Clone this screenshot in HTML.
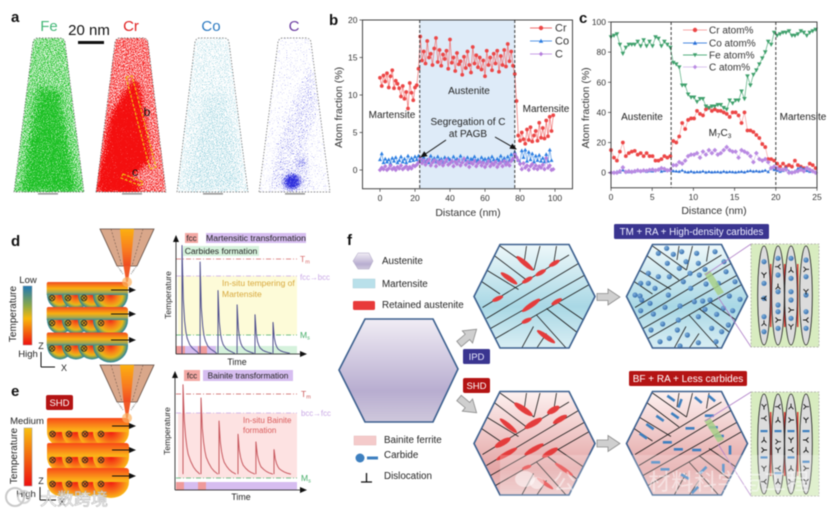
<!DOCTYPE html>
<html lang="en">
<head>
<meta charset="utf-8">
<title>Composite materials figure</title>
<style>
html,body{margin:0;padding:0;background:#fff;width:827px;height:514px;overflow:hidden}
svg{display:block;filter:blur(.4px)}
text{font-family:"Liberation Sans","Noto Sans CJK SC",sans-serif;fill:#222}
.tick{font-size:8.5px;text-anchor:middle;fill:#333}
.axt{font-size:10.5px;text-anchor:middle;fill:#333}
.lab{font-size:10px;text-anchor:middle;fill:#222}
.panel{font-size:15px;font-weight:bold;fill:#111}
.hl{stroke:#1a1a1a;stroke-width:.8;fill:none}
</style>
</head>
<body>
<svg id="root" xmlns="http://www.w3.org/2000/svg" width="827" height="514" viewBox="0 0 827 514">
<defs>
  <filter id="atoms-fe" filterUnits="userSpaceOnUse" x="0" y="30" width="340" height="170" color-interpolation-filters="sRGB"><feGaussianBlur in="SourceAlpha" stdDeviation="4" result="b"/><feTurbulence type="fractalNoise" baseFrequency="1.1" numOctaves="1" seed="3"/><feColorMatrix values="0 0 0 0 0 0 0 0 0 0 0 0 0 0 0 1 0 0 0 0" result="na"/><feComposite in="b" in2="na" operator="arithmetic" k1="0" k2="5.6" k3="8" k4="-6.8" result="m"/><feFlood flood-color="#1cc024"/><feComposite in2="m" operator="in"/></filter>
  <filter id="atoms-cr" filterUnits="userSpaceOnUse" x="0" y="30" width="340" height="170" color-interpolation-filters="sRGB"><feGaussianBlur in="SourceAlpha" stdDeviation="3" result="b"/><feTurbulence type="fractalNoise" baseFrequency="1.1" numOctaves="1" seed="9"/><feColorMatrix values="0 0 0 0 0 0 0 0 0 0 0 0 0 0 0 1 0 0 0 0" result="na"/><feComposite in="b" in2="na" operator="arithmetic" k1="0" k2="5.6" k3="8" k4="-6.8" result="m"/><feFlood flood-color="#f40f0f"/><feComposite in2="m" operator="in"/></filter>
  <filter id="atoms-co" filterUnits="userSpaceOnUse" x="0" y="30" width="340" height="170" color-interpolation-filters="sRGB"><feGaussianBlur in="SourceAlpha" stdDeviation="5" result="b"/><feTurbulence type="fractalNoise" baseFrequency="1.2" numOctaves="1" seed="14"/><feColorMatrix values="0 0 0 0 0 0 0 0 0 0 0 0 0 0 0 1 0 0 0 0" result="na"/><feComposite in="b" in2="na" operator="arithmetic" k1="0" k2="5.6" k3="8" k4="-6.8" result="m"/><feFlood flood-color="#7cc4d4"/><feComposite in2="m" operator="in"/></filter>
  <filter id="atoms-c" filterUnits="userSpaceOnUse" x="0" y="30" width="340" height="170" color-interpolation-filters="sRGB"><feGaussianBlur in="SourceAlpha" stdDeviation="3" result="b"/><feTurbulence type="fractalNoise" baseFrequency="1.3" numOctaves="1" seed="21"/><feColorMatrix values="0 0 0 0 0 0 0 0 0 0 0 0 0 0 0 1 0 0 0 0" result="na"/><feComposite in="b" in2="na" operator="arithmetic" k1="0" k2="5.6" k3="8" k4="-6.8" result="m"/><feFlood flood-color="#2c2cdc"/><feComposite in2="m" operator="in"/></filter>
  <clipPath id="cone-fe"><path d="M14,192L33,42Q34,38 38,38H60Q64,38 65,42L84,192z"/></clipPath>
  <clipPath id="cone-cr"><path d="M96,192L115,42Q116,38 120,38H143Q147,38 148,42L166,192z"/></clipPath>
  <clipPath id="cone-co"><path d="M177,192L195,42Q196,38 200,38H224Q228,38 229,42L248,192z"/></clipPath>
  <clipPath id="cone-c"><path d="M259,192L278,42Q279,38 283,38H306Q310,38 311,42L330,192z"/></clipPath>
  <linearGradient id="bar-d" x1="0" y1="0" x2="0" y2="1"><stop offset="0" stop-color="#1f77b4"/><stop offset=".33" stop-color="#8aa84a"/><stop offset=".55" stop-color="#f8b80c"/><stop offset="1" stop-color="#ee1010"/></linearGradient>
  <linearGradient id="bar-e" x1="0" y1="0" x2="0" y2="1"><stop offset="0" stop-color="#f8c010"/><stop offset="1" stop-color="#ee1010"/></linearGradient>
  <linearGradient id="layer-d" x1="0" y1="0" x2="0" y2="1"><stop offset="0" stop-color="#f04820"/><stop offset=".5" stop-color="#fab010"/><stop offset=".8" stop-color="#a8a850"/><stop offset="1" stop-color="#3a8a90"/></linearGradient>
  <radialGradient id="bead-d" cx="0" cy="0" r="1" gradientTransform="translate(.5,0) scale(.5,1)"><stop offset="0" stop-color="#f02818"/><stop offset=".45" stop-color="#f88818"/><stop offset=".7" stop-color="#e8b818"/><stop offset=".86" stop-color="#7aa060"/><stop offset="1" stop-color="#1f7fa0"/></radialGradient>
  <linearGradient id="layer-e" x1="0" y1="0" x2="0" y2="1"><stop offset="0" stop-color="#f84818"/><stop offset=".8" stop-color="#fba818"/><stop offset="1" stop-color="#fbb818"/></linearGradient>
  <radialGradient id="bead-e" cx="0" cy="0" r="1" gradientTransform="translate(.5,0) scale(.5,1)"><stop offset="0" stop-color="#f01810"/><stop offset=".55" stop-color="#f86a18"/><stop offset="1" stop-color="#fbb818"/></radialGradient>
  <linearGradient id="nozzle-beam" x1="0" y1="0" x2="0" y2="1"><stop offset="0" stop-color="#fcb010"/><stop offset=".6" stop-color="#f87820"/><stop offset="1" stop-color="#f04a20"/></linearGradient>
  <linearGradient id="aust-fill" x1="0" y1="0" x2="0" y2="1"><stop offset="0" stop-color="#f1edf5"/><stop offset=".7" stop-color="#b8add0"/><stop offset="1" stop-color="#cfc8dc"/></linearGradient>
  <linearGradient id="mart-fill" x1="0" y1="0" x2="0" y2="1"><stop offset="0" stop-color="#eef8fa"/><stop offset=".6" stop-color="#a9d8e5"/><stop offset="1" stop-color="#d9eef4"/></linearGradient>
  <linearGradient id="bain-fill" x1="0" y1="0" x2="0" y2="1"><stop offset="0" stop-color="#fdf1f0"/><stop offset=".75" stop-color="#e4a6a6"/><stop offset="1" stop-color="#ecc4c4"/></linearGradient>
  <radialGradient id="ball" cx=".35" cy=".35" r=".75"><stop offset="0" stop-color="#7fb0dc"/><stop offset="1" stop-color="#2f68a8"/></radialGradient>
  <clipPath id="hex-clip"><polygon points="-60.5,0 -34.5,-52 34.5,-52 60.5,0 34.5,51.5 -34.5,51.5"/></clipPath>
  <polygon id="hex" points="-60.5,0 -34.5,-52 34.5,-52 60.5,0 34.5,51.5 -34.5,51.5"/>
  <g id="hex-lines" clip-path="url(#hex-clip)">
    <path class="hl" d="M-52,11L34.5,-41.5M-48,22L44,-33M-44,32L50.5,-21.5M-39,42L54,-11.5"/>
    <path class="hl" d="M-34.5,-50.5L-.5,-26.5M-41,-41.5L-8,-16.5M-48,-26.5L-16,-7M-53,-15L-34.5,-2.5"/>
    <path class="hl" d="M-8,-50.5L-10,-36.5M5.5,-50.5L-.5,-26.5M22,-50.5L19.5,-35"/>
    <path class="hl" d="M2,18.5L32,52M12,12L44,37M22,5L49,23.5M-1,30L-13,52M12,37L2,52"/>
  </g>
  <polygon id="block-arrow" points="0,-3.5 11,-3.5 11,-8 23,0 11,8 11,3.5 0,3.5" fill="#cfcfcf" stroke="#8a8a8a" stroke-width=".8"/>
  <g id="bead-layer-d">
    <path d="M47,295 a13,14 0 0 0 26,0z" fill="url(#bead-d)"/>
    <path d="M62,295 a14,14 0 0 0 28,0z" fill="url(#bead-d)"/>
    <path d="M78,295 a14,14 0 0 0 28,0z" fill="url(#bead-d)"/>
    <path d="M93,295 a17.500,17 0 0 0 35,0z" fill="url(#bead-d)"/>
    <path d="M48,282h77a3,3 0 0 1 3,3v10h-81.300v-11a2,2 0 0 1 1.300,-2z" fill="url(#layer-d)"/>
  </g>
  <g id="bead-layer-e">
    <path d="M47,432 a13,14 0 0 0 26,0z" fill="url(#bead-e)"/>
    <path d="M62,432 a14,14 0 0 0 28,0z" fill="url(#bead-e)"/>
    <path d="M78,432 a14,14 0 0 0 28,0z" fill="url(#bead-e)"/>
    <path d="M93,432 a18,16 0 0 0 36,0z" fill="url(#bead-e)"/>
    <path d="M49,418h77a3,3 0 0 1 3,3v11h-82v-12a2,2 0 0 1 2,-2z" fill="url(#layer-e)"/>
  </g>
  <g id="cross-mark"><circle r="2.8" fill="none" stroke="#222" stroke-width=".8"/><path d="M-2,-2L2,2M-2,2L2,-2" stroke="#222" stroke-width=".7"/></g>
  <marker id="ah" markerWidth="7" markerHeight="6" refX="6" refY="3" orient="auto" markerUnits="userSpaceOnUse"><path d="M0,0L7,3L0,6z" fill="#111"/></marker>
  <g id="nozzle">
    <polygon points="-27,0 27,0 10,37 -10,37" fill="#d9a78a" stroke="#5f4a40" stroke-width=".8"/>
    <polygon points="-7,0 7,0 3.5,37 -3.5,37" fill="url(#nozzle-beam)"/>
    <path d="M-16,0L-5,37M16,0L5,37" stroke="#5f4a40" stroke-width=".5" stroke-dasharray="2 1.5" fill="none"/>
    <polygon points="-3.5,37 3.5,37 .8,53 -.8,53" fill="#f05a28"/>
    <path d="M-9,38l4,5M9,38l-4,5M-7,41l3,4M7,41l-3,4" stroke="#999" stroke-width="1" stroke-dasharray="1 1" fill="none"/>
    <circle cx="0" cy="53" r="5" fill="#fbb060" opacity=".7"/>
  </g>
</defs>

<!-- PANEL A -->
<text class="panel" x="11" y="22">a</text>
<text x="49" y="31" font-size="15" text-anchor="middle" style="fill:#45b878">Fe</text>
<text x="131" y="31" font-size="15" text-anchor="middle" style="fill:#e02020">Cr</text>
<text x="211" y="31" font-size="15" text-anchor="middle" style="fill:#2a78c0">Co</text>
<text x="294" y="31" font-size="15" text-anchor="middle" style="fill:#6a3aa0">C</text>
<text x="89" y="35" font-size="15" text-anchor="middle" style="fill:#111">20 nm</text>
<rect x="78" y="41" width="26" height="3" fill="#111"/>

<g>
  <g clip-path="url(#cone-fe)"><g filter="url(#atoms-fe)">
    <path d="M5,200L28,32H70L93,200z" fill-opacity=".6"/>
    <path d="M22,192L38,90 58,90 76,192z" fill-opacity=".5"/>
  </g></g>
  <path d="M14,192L33,42Q34,38 38,38H60Q64,38 65,42L84,192z" fill="none" stroke="#666" stroke-width=".7" stroke-dasharray="1.5 1.5"/>
  <rect x="38" y="193" width="20" height="1.6" fill="#999"/>
</g>
<g>
  <g clip-path="url(#cone-cr)"><g filter="url(#atoms-cr)">
    <path d="M88,200L110,32H153L174,200z" fill-opacity=".6"/>
    <path d="M97,191L112,115 133,80 138,85 150,160 128,178 133,192z" fill-opacity=".85"/>
    <path d="M118,195L124,178 140,182 138,195z" fill-opacity=".7"/>
  </g></g>
  <path d="M96,192L115,42Q116,38 120,38H143Q147,38 148,42L166,192z" fill="none" stroke="#666" stroke-width=".7" stroke-dasharray="1.5 1.5"/>
  <rect x="122" y="193" width="20" height="1.6" fill="#999"/>
  <polygon points="126,77 132,76 156,167 150,169" fill="none" stroke="#f0c810" stroke-width="1.1" stroke-dasharray="3 1.5"/>
  <polygon points="123,174 143,182 141,186 121,178" fill="none" stroke="#f0c810" stroke-width="1.1" stroke-dasharray="3 1.5"/>
  <text x="147" y="116" font-size="12" text-anchor="middle" style="fill:#111">b</text>
  <text x="135" y="176" font-size="12" text-anchor="middle" style="fill:#111">c</text>
</g>
<g>
  <g clip-path="url(#cone-co)"><g filter="url(#atoms-co)">
    <path d="M168,200L190,32H234L256,200z" fill-opacity=".42"/>
    <path d="M184,192L204,95 226,95 242,192z" fill-opacity=".12"/>
  </g></g>
  <path d="M177,192L195,42Q196,38 200,38H224Q228,38 229,42L248,192z" fill="none" stroke="#666" stroke-width=".7" stroke-dasharray="1.5 1.5"/>
  <rect x="203" y="193" width="20" height="1.6" fill="#999"/>
</g>
<g>
  <g clip-path="url(#cone-c)"><g filter="url(#atoms-c)">
    <path d="M250,200L272,32H316L338,200z" fill-opacity=".27"/>
    <path d="M312,62L318,100 306,150 312,190 268,190 284,120z" fill-opacity=".16"/>
    <ellipse cx="292" cy="182" rx="8" ry="8" fill-opacity=".75"/>
    <ellipse cx="302" cy="163" rx="5" ry="4" fill-opacity=".35"/>
  </g></g>
  <path d="M259,192L278,42Q279,38 283,38H306Q310,38 311,42L330,192z" fill="none" stroke="#666" stroke-width=".7" stroke-dasharray="1.5 1.5"/>
  <rect x="285" y="193" width="20" height="1.6" fill="#999"/>
</g>

<!-- PANEL B / C (scripted) -->
<text class="panel" x="329" y="25">b</text>
<text class="panel" x="579" y="23">c</text>
<g id="chart-b"></g>
<g id="chart-c"></g>

<!-- PANEL D -->
<text class="panel" x="11" y="246">d</text>
<g>
  <use href="#bead-layer-d"/><use href="#bead-layer-d" y="25"/><use href="#bead-layer-d" y="50.5"/>
  <use href="#nozzle" x="127" y="229"/>
  <use href="#cross-mark" x="52" y="298"/><use href="#cross-mark" x="68" y="298"/><use href="#cross-mark" x="84" y="298"/><use href="#cross-mark" x="101" y="298"/>
  <use href="#cross-mark" x="52" y="323"/><use href="#cross-mark" x="68" y="323"/><use href="#cross-mark" x="84" y="323"/><use href="#cross-mark" x="101" y="323"/>
  <use href="#cross-mark" x="52" y="348.500"/><use href="#cross-mark" x="68" y="348.500"/><use href="#cross-mark" x="84" y="348.500"/><use href="#cross-mark" x="101" y="348.500"/>
  <path d="M111,290H135" stroke="#111" stroke-width="1" marker-end="url(#ah)"/>
  <path d="M111,314H135" stroke="#111" stroke-width="1" marker-end="url(#ah)"/>
  <path d="M111,340H135" stroke="#111" stroke-width="1" marker-end="url(#ah)"/>
</g>
<rect x="23" y="286" width="9" height="59" fill="url(#bar-d)" stroke="#999" stroke-width=".4"/>
<text x="28" y="283" font-size="9.5" text-anchor="middle">Low</text>
<text x="28" y="357" font-size="9.5" text-anchor="middle">High</text>
<text transform="translate(16,314) rotate(-90)" font-size="10" text-anchor="middle">Temperature</text>
<text x="41" y="349" font-size="9" text-anchor="middle">Z</text>
<path d="M41,367V352M41,367H55" stroke="#111" stroke-width="1" fill="none"/>
<text x="64" y="371" font-size="9" text-anchor="middle">X</text>

<g id="plot-d">
  <rect x="178" y="276" width="119" height="59" fill="#fdfbd8"/>
  <rect x="216" y="346" width="81" height="8" fill="#d5f2dc"/>
  <rect x="176" y="346" width="9" height="8" fill="#ef9a9a"/><rect x="185" y="346" width="13" height="8" fill="#d6bdf0"/>
  <rect x="198" y="346" width="9" height="8" fill="#ef9a9a"/><rect x="207" y="346" width="9" height="8" fill="#d6bdf0"/>
  <path d="M176,259H297" stroke="#d86a6a" stroke-width=".7" stroke-dasharray="5 2 1 2"/>
  <path d="M176,276H297" stroke="#c9a8e6" stroke-width=".7" stroke-dasharray="5 2 1 2"/>
  <path d="M176,335H297" stroke="#48ae6a" stroke-width=".8" stroke-dasharray="5 2 1 2"/>
  <path d="M176,354V236" stroke="#111" stroke-width=".8" marker-end="url(#ah)"/>
  <path d="M176,354H306" stroke="#111" stroke-width=".8" marker-end="url(#ah)"/>
  <rect x="185" y="233" width="13" height="10" fill="#f3a8a4"/>
  <text x="191.500" y="241" font-size="8" text-anchor="middle">fcc</text>
  <rect x="206" y="233" width="100" height="10" fill="#d6bdf0"/>
  <text x="256" y="241" font-size="8.700" text-anchor="middle">Martensitic transformation</text>
  <rect x="183" y="246" width="76" height="10" fill="#d5f2dc"/>
  <text x="221" y="254" font-size="8.600" text-anchor="middle">Carbides formation</text>
  <text x="300" y="262" font-size="8.500" style="fill:#d86a6a">T<tspan font-size="5.500" dy="1.500">m</tspan></text>
  <text x="300" y="280" font-size="7.800" style="fill:#c9a8e6">fcc→bcc</text>
  <text x="300" y="338" font-size="8.500" style="fill:#48ae6a">M<tspan font-size="5.500" dy="1.500">s</tspan></text>
  <text x="222" y="286" font-size="8.500" style="fill:#d8a83c">In-situ tempering of</text>
  <text x="222" y="297" font-size="8.500" style="fill:#d8a83c">Martensite</text>
  <text x="237" y="365" font-size="8.800" text-anchor="middle">Time</text>
  <text transform="translate(171,295) rotate(-90)" font-size="8.500" text-anchor="middle">Temperature</text>
</g>

<!-- PANEL E -->
<text class="panel" x="11" y="396">e</text>
<rect x="46" y="395" width="27" height="15" rx="2" fill="#b41414"/>
<text x="59.500" y="406" font-size="9.500" text-anchor="middle" style="fill:#fff">SHD</text>
<g>
  <use href="#bead-layer-e"/><use href="#bead-layer-e" y="25"/><use href="#bead-layer-e" y="50"/>
  <use href="#nozzle" x="127" y="365"/>
  <use href="#cross-mark" x="52.500" y="434"/><use href="#cross-mark" x="69" y="434"/><use href="#cross-mark" x="85" y="434"/><use href="#cross-mark" x="101" y="434"/>
  <use href="#cross-mark" x="52.500" y="460"/><use href="#cross-mark" x="69" y="460"/><use href="#cross-mark" x="85" y="460"/><use href="#cross-mark" x="101" y="460"/>
  <use href="#cross-mark" x="52.500" y="484"/><use href="#cross-mark" x="69" y="484"/><use href="#cross-mark" x="85" y="484"/><use href="#cross-mark" x="101" y="484"/>
  <path d="M112,426H135" stroke="#111" stroke-width="1" marker-end="url(#ah)"/>
  <path d="M112,450H135" stroke="#111" stroke-width="1" marker-end="url(#ah)"/>
  <path d="M112,476H135" stroke="#111" stroke-width="1" marker-end="url(#ah)"/>
</g>
<rect x="24" y="428" width="8" height="58" fill="url(#bar-e)" stroke="#999" stroke-width=".5"/>
<text x="27" y="424" font-size="9.500" text-anchor="middle">Medium</text>
<text x="26" y="497" font-size="9.500" text-anchor="middle">High</text>
<text transform="translate(17,456) rotate(-90)" font-size="10" text-anchor="middle">Temperature</text>
<text x="41" y="484" font-size="9" text-anchor="middle">Z</text>
<path d="M40,500V487M40,500H56" stroke="#111" stroke-width="1" fill="none"/>
<text x="62" y="505" font-size="9" text-anchor="middle">X</text>

<g id="plot-e">
  <rect x="178" y="413" width="119" height="65" fill="#fde2e2"/>
  <rect x="176" y="482" width="121" height="8" fill="#d6bdf0"/>
  <rect x="176" y="482" width="8" height="8" fill="#ef9a9a"/><rect x="198" y="482" width="8" height="8" fill="#ef9a9a"/>
  <path d="M176,394H297" stroke="#cc5a5a" stroke-width=".7" stroke-dasharray="5 2 1 2"/>
  <path d="M176,413H297" stroke="#c9a8e6" stroke-width=".7" stroke-dasharray="5 2 1 2"/>
  <path d="M176,478H297" stroke="#48ae6a" stroke-width=".8" stroke-dasharray="5 2 1 2"/>
  <path d="M175,490V372" stroke="#111" stroke-width=".8" marker-end="url(#ah)"/>
  <path d="M175,490H306" stroke="#111" stroke-width=".8" marker-end="url(#ah)"/>
  <rect x="184" y="370" width="16" height="11" fill="#f3a8a4"/>
  <text x="192" y="378.500" font-size="8" text-anchor="middle">fcc</text>
  <rect x="203" y="370" width="90" height="11" fill="#d6bdf0"/>
  <text x="248" y="378.500" font-size="8.300" text-anchor="middle">Bainite transformation</text>
  <text x="301" y="397" font-size="8.500" style="fill:#cc5a5a">T<tspan font-size="5.500" dy="1.500">m</tspan></text>
  <text x="301" y="416" font-size="7.800" style="fill:#c9a8e6">bcc→fcc</text>
  <text x="301" y="481" font-size="8.500" style="fill:#48ae6a">M<tspan font-size="5.500" dy="1.500">s</tspan></text>
  <text x="243" y="423" font-size="8" style="fill:#d85a5a">In-situ Bainite</text>
  <text x="243" y="433" font-size="8" style="fill:#d85a5a">formation</text>
  <text x="241" y="500" font-size="8.800" text-anchor="middle">Time</text>
  <text transform="translate(170,431) rotate(-90)" font-size="8.500" text-anchor="middle">Temperature</text>
</g>

<!-- PANEL F -->
<text class="panel" x="347" y="245">f</text>
<g>
  <polygon points="353,261 358,253 369,253 373,261 369,269 358,269" fill="url(#aust-fill)" stroke="#a8a0c0" stroke-width=".5"/>
  <text x="382" y="264" font-size="9.800">Austenite</text>
  <rect x="353" y="279" width="22" height="9" fill="#b9e0ea" stroke="#a0c8d4" stroke-width=".4"/>
  <text x="382" y="287" font-size="9.800">Martensite</text>
  <rect x="353" y="301" width="22" height="9" rx="1.500" fill="#e83a3a"/>
  <text x="382" y="308" font-size="9.800">Retained austenite</text>
</g>
<g>
  <rect x="354" y="436" width="22" height="9" fill="#f4caca" stroke="#e0b0b0" stroke-width=".4"/>
  <text x="384" y="443" font-size="9.800">Bainite ferrite</text>
  <circle cx="360" cy="458" r="4.500" fill="#3d7fbf"/>
  <rect x="367" y="456.500" width="11" height="3" fill="#3d7fbf"/>
  <text x="384" y="458" font-size="9.800">Carbide</text>
  <path d="M361,482H372M366.500,482V473" stroke="#111" stroke-width="1.300" fill="none"/>
  <text x="384" y="479" font-size="9.800">Dislocation</text>
</g>
<polygon points="339,370 365,319 433,319 458,369 433,422 365,422" fill="url(#aust-fill)" stroke="#3b5f8e" stroke-width="1.600"/>
<use href="#block-arrow" transform="translate(459,344) rotate(-40)"/>
<use href="#block-arrow" transform="translate(459,398) rotate(40)"/>
<rect x="463" y="349" width="27" height="15" rx="1.500" fill="#3a3590"/>
<text x="476.500" y="360" font-size="9.500" text-anchor="middle" style="fill:#e8e8ff">IPD</text>
<rect x="463" y="378" width="27" height="15" rx="2" fill="#b41414"/>
<text x="476.500" y="389" font-size="9.500" text-anchor="middle" style="fill:#fff">SHD</text>

<g transform="translate(534.500,296.500)">
  <use href="#hex" fill="url(#mart-fill)"/>
  <use href="#hex-lines"/><g id="ra-top"></g>
  <use href="#hex" fill="none" stroke="#3b5f8e" stroke-width="1.600"/>
</g>
<g transform="translate(534.500,443.500)">
  <use href="#hex" fill="url(#bain-fill)"/>
  <use href="#hex-lines"/><g id="ra-bottom"></g>
  <use href="#hex" fill="none" stroke="#3b5f8e" stroke-width="1.600"/>
</g>
<use href="#block-arrow" x="597" y="297"/>
<use href="#block-arrow" x="597" y="443.500"/>

<g transform="translate(687,296.500)">
  <use href="#hex" fill="url(#mart-fill)"/>
  <use href="#hex-lines"/><g id="dots-top"></g>
  <use href="#hex" fill="none" stroke="#3b5f8e" stroke-width="1.600"/>
  <polygon points="17,-23 23,-26 37,-4 31,-1" fill="#a8d088" opacity=".85"/>
</g>
<g transform="translate(687,443.500)">
  <use href="#hex" fill="url(#bain-fill)"/>
  <use href="#hex-lines"/><g id="dashes-bottom"></g>
  <use href="#hex" fill="none" stroke="#3b5f8e" stroke-width="1.600"/>
  <polygon points="17,-23 23,-26 37,-4 31,-1" fill="#a8d088" opacity=".85"/>
</g>
<path d="M705,275L751,244M718,297L751,347M705,421L751,392M718,444L751,496" stroke="#b080c8" stroke-width=".8" fill="none"/>

<rect x="614" y="224" width="155" height="15" rx="1.500" fill="#3a3590"/>
<text x="691.500" y="235" font-size="9.800" text-anchor="middle" style="fill:#eef">TM + RA + High-density carbides</text>
<rect x="629" y="371" width="118" height="15" rx="1.500" fill="#b41414"/>
<text x="688" y="382" font-size="10" text-anchor="middle" style="fill:#fff">BF + RA + Less carbides</text>

<g id="inset-top"></g>
<g id="inset-bottom"></g>

<!-- WATERMARKS -->
<g>
  <rect x="500" y="455" width="327" height="59" fill="#fff" opacity=".22"/>
  <ellipse cx="525" cy="479" rx="10" ry="8" fill="#fff" opacity=".5"/>
  <ellipse cx="537" cy="483" rx="7" ry="6" fill="#fff" opacity=".5"/>
  <text x="553" y="490" font-size="22.500" style="fill:#fff;opacity:.5">公众号</text>
  <text x="631" y="490" font-size="22.500" text-anchor="middle" style="fill:#fff;opacity:.5">·</text>
  <text x="648" y="490" font-size="22.500" letter-spacing=".6" style="fill:#fff;opacity:.5">材料科学与工程</text>
  <circle cx="15" cy="497" r="9" fill="none" stroke="#bbb" stroke-width="2" opacity=".8"/>
  <circle cx="24" cy="497" r="6" fill="none" stroke="#ccc" stroke-width="2" opacity=".8"/>
  <text x="40" y="505" font-size="17" style="fill:#fff;stroke:#aaa;stroke-width:.6;opacity:.85">大数跨境</text>
</g>
</svg>

<script>
const bXTicks = [0, 20, 40, 60, 80, 100];
const bYTicks = [0, 5, 10, 15, 20];
const bCr = [12.3,11.2,12.6,11.8,12.9,11.0,12.5,13.3,10.9,11.9,11.5,10.9,9.8,11.2,9.5,10.4,8.2,11.6,10.3,9.3,11.0,11.3,13.5,
17.8,14.6,15.8,14.2,17.2,15.0,15.5,14.0,16.2,17.6,14.4,16.0,13.9,15.4,14.8,15.9,13.5,17.4,14.3,15.0,13.2,15.6,14.1,14.5,12.7,15.1,13.6,15.8,14.0,13.0,16.4,14.2,15.3,13.7,15.0,13.4,14.6,12.5,15.9,14.0,15.0,13.3,15.5,14.2,15.9,13.1,15.2,14.0,16.0,13.8,16.8,14.5,15.8,13.9,
12.8,9.2,4.6,3.9,5.0,4.1,3.5,5.4,4.0,5.7,3.8,4.6,5.2,3.9,6.3,4.3,5.6,4.2,6.6,4.5,7.1,5.2,7.3];
const bCo = [1.4,2.2,1.0,1.5,1.1,1.4,0.9,1.6,1.2,1.7,1.0,1.3,1.8,1.1,1.5,1.0,1.9,1.2,1.6,1.3,1.8,1.4,1.9,
1.5,1.2,1.7,1.1,1.4,1.0,1.9,1.3,1.6,1.1,1.8,1.3,1.5,1.0,1.7,1.2,1.6,1.4,1.1,1.8,1.3,1.5,1.2,1.9,1.1,1.6,1.3,1.7,1.0,1.5,1.4,1.8,1.2,1.4,1.1,1.7,1.3,1.5,1.0,1.6,1.2,1.8,1.4,1.1,1.5,1.3,1.9,1.2,1.6,1.0,1.8,1.3,2.1,1.4,
2.4,1.8,1.3,1.0,2.6,1.7,2.7,1.2,2.4,1.4,2.2,1.1,1.9,1.3,2.0,1.2,1.6,1.1,2.1,1.2,2.7,1.3];
const bC = [0.0,0.3,0.1,0.5,0.0,0.2,0.6,0.1,0.3,0.0,0.4,0.2,0.6,0.1,0.3,0.5,0.1,0.4,0.2,0.6,0.5,0.7,1.0,
1.5,0.9,1.3,0.7,1.1,1.4,0.6,1.0,1.3,0.5,1.1,0.8,1.2,0.6,1.0,1.4,0.7,0.9,1.2,0.5,1.1,0.8,1.3,0.6,1.0,1.5,0.7,1.1,0.4,1.0,0.8,1.2,0.5,0.9,1.1,0.6,1.0,0.4,0.8,1.2,0.5,0.9,0.7,1.1,0.4,0.8,1.0,0.5,1.2,0.7,1.0,0.6,1.2,1.5,
2.1,1.7,1.3,0.8,0.1,0.9,0.3,0.6,0.0,0.5,0.8,0.2,0.6,0.1,0.5,0.3,0.7,0.1,1.6,0.3,0.6,0.0,0.1];

const cXTicks = [0, 5, 10, 15, 20, 25];
const cYTicks = [0, 20, 40, 60, 80, 100];
const cStep = 0.36;
const cCr = [15,10,8,14,20,11,13,14,14.5,12,13,11,13,11,11,8,8,9,11,10,11,21,20,24,33,29,35,36,36,41,39,38,42,43,41,42,41,41,40,39,37,40,40,38,33,40,28,28,27,25,23,19,17,9,9,8,6,4,6,4,5,4,8,5,4,3,3,6,5,3];
const cCo = [0.5,0.3,0.8,0.4,1.8,0.6,0.5,1.2,0.7,2.0,1.0,1.4,0.8,1.2,1.0,1.6,2.2,0.9,1.4,2.0,1.5,1.2,1.0,0.8,1.6,0.6,0.4,0.9,0.3,0.6,0.5,1.0,0.3,0.7,0.4,0.5,0.6,0.3,0.9,0.4,0.7,0.5,0.3,0.6,0.8,0.4,1.0,1.4,0.9,1.2,0.8,1.1,1.6,0.6,3.0,2.0,1.5,0.8,1.4,3.5,1.0,0.5,1.0,2.8,3.6,2.5,1.4,0.8,1.5,0.5];
const cFe = [90,91,92,85,79,83,85,85,85,87,84,88,84,87,84,90,89,84,87,85,83,73,72,70,58,58,52,50,50,47,49,49,44,43,44,44,45,45,43,42,48,46,48,48,54,49,64,58,65,68,72,76,80,87,85,93,91,92,93,93,94,91,91,92,94,93,91,93,94,95];
const cC = [0,0,0,1,3.5,0.5,1,0.5,1,1.5,1,1.5,1.2,1.8,2,1.5,2,3,2.5,1.5,2,5,5,7,6,8,11,12,12,13,10,14,12,15,13,15,12,13,15,17,15,14,14,10,15,14,13,11,7,13,9,8,9,7,3,4,3,2,2,2,0,0,0.5,1,2,1,3,2,1,0];

const dPeakTimes = [4.6, 18.5, 32.3, 47, 60.8, 74.6];
const dPeakTemps = [99, 84, 58, 45, 36, 29];
const dDecayTime = [0, 1, 2, 3, 4, 6, 8, 10, 13];
const dDecayFrac = [1, 0.5, 0.3, 0.2, 0.14, 0.08, 0.05, 0.03, 0];
const ePeakTimes = [5.4, 19.2, 33.1, 47.7, 61.5, 75.4];
const ePeakTemps = [96, 84, 63, 51, 44, 37];
const eDecayTime = [0, 1, 2, 3, 4, 6, 8, 10, 13];
const eDecayFrac = [1, 0.6, 0.42, 0.3, 0.22, 0.14, 0.08, 0.04, 0];

const raTop = [[585,130,11,2.5,40],[537,175,10,2.5,35],[673,130,6,2.2,-30],[632,158,6,2.2,-30],[592,180,6,2.2,-30],[503,236,6,2.2,-25],[603,256,11,2.5,-35],[680,245,6,2.2,-30],[590,302,5.5,2.2,-25],[648,350,11,2.5,35]];
const raBottom = [[580,568,11,3,35],[535,617,11,2.5,40],[670,570,7,3,-30],[610,610,10,3,-30],[690,598,8,2.6,-30],[518,668,9,3,-30],[530,702,12,2.5,-30],[612,688,11,2.5,-30],[660,698,9,2.8,-30],[702,748,11,2,35],[590,742,5,1.8,-20],[645,790,10,2,35]];
const carbideDots = [[230,85],[205,100],[250,103],[275,95],[320,100],[375,95],[232,130],[288,125],[325,130],[268,145],[175,160],[205,170],[238,170],[300,160],[345,148],[402,125],[152,190],[175,190],[280,185],[328,165],[408,155],[135,225],[150,228],[195,205],[235,225],[348,192],[302,205],[385,190],[435,185],[155,240],[180,250],[225,262],[313,245],[338,243],[360,240],[418,228],[450,238],[152,272],[190,282],[270,258],[345,268],[400,265],[428,272],[183,330],[218,312],[265,300],[325,290],[380,283],[415,315],[365,325],[395,335],[262,330],[292,345],[238,355],[210,365],[325,368],[378,365],[270,378]];
const carbideDashes = [[243,535,35],[270,550,-70],[325,540,40],[365,535,40],[210,595,35],[255,587,35],[180,620,35],[160,648,35],[358,587,0],[300,625,0],[370,622,0],[388,648,0],[232,667,0],[265,688,0],[320,690,0],[420,690,90],[197,727,0],[225,748,0],[400,745,90],[315,810,-45],[285,770,30],[340,750,-45]];
const insetColumns = [764, 778, 791, 806];
const insetTopBalls = [[125,190,235,290,335],[115,165,215,255,275,325],[115,175,215,240,295],[120,170,225,275,325]];
const insetTopDisl = [[165,235,310],[140,200,300],[150,270,320],[148,215,300]];
const insetBottomBars = [[633,712],[633,760],[633,712],[633,725]];
const insetBottomDisl = [[560,595,660,690,745,785],[560,600,665,690,745,785],[560,600,660,690,745,785],[560,600,660,690,745,785]];

const NS = 'http://www.w3.org/2000/svg';
function add(parent, tag, attrs, txt) {
  const e = document.createElementNS(NS, tag);
  for (const k in attrs) e.setAttribute(k, attrs[k]);
  if (txt !== undefined) e.textContent = txt;
  parent.appendChild(e);
  return e;
}

const xB = v => 380 + v * 1.75;
const yB = v => 170 - v * 7.5;
const xC = v => 611 + v * 8.24;
const yC = v => 172.7 - v * 1.507;

function markerPath(shape, x, y, s) {
  if (shape === 'tri') return 'M' + x + ',' + (y - s) + 'L' + (x + s) + ',' + (y + s * .8) + 'L' + (x - s) + ',' + (y + s * .8) + 'z';
  if (shape === 'inv') return 'M' + x + ',' + (y + s) + 'L' + (x + s) + ',' + (y - s * .8) + 'L' + (x - s) + ',' + (y - s * .8) + 'z';
  if (shape === 'dia') return 'M' + x + ',' + (y - s) + 'L' + (x + s) + ',' + y + 'L' + x + ',' + (y + s) + 'L' + (x - s) + ',' + y + 'z';
  return 'M' + (x - s) + ',' + y + 'a' + s + ',' + s + ' 0 1 0 ' + (2 * s) + ',0a' + s + ',' + s + ' 0 1 0 ' + (-2 * s) + ',0z';
}

function drawSeries(parent, name, values, px, py, lineColor, color, shape, size) {
  const d = values.map((v, i) => (i ? 'L' : 'M') + px(i).toFixed(1) + ',' + py(v).toFixed(1)).join('');
  const line = add(parent, 'path', { d: d, fill: 'none', stroke: lineColor, 'stroke-width': .7 });
  
  
  values.forEach((v, i) => {
    const m = add(parent, 'path', { d: markerPath(shape, px(i), py(v), size), fill: color });
    
    
  });
}

function drawFrame(parent, prefix, left, right, top, bottom, xTicks, yTicks, px, py, yTitleX, xTitleX, titleY) {
  const fr = add(parent, 'rect', { x: left, y: top, width: right - left, height: bottom - top, fill: 'none', stroke: '#333', 'stroke-width': .9 });
  
  
  xTicks.forEach(t => {
    const k = add(parent, 'line', { x1: px(t), x2: px(t), y1: bottom, y2: bottom + 3, stroke: '#333', 'stroke-width': .7 });
    
    
    const l = add(parent, 'text', { x: px(t), y: bottom + 12, class: 'tick' }, String(t));
    
    
  });
  yTicks.forEach(t => {
    const k = add(parent, 'line', { x1: left - 3, x2: left, y1: py(t), y2: py(t), stroke: '#333', 'stroke-width': .7 });
    
    
    const l = add(parent, 'text', { x: left - 5, y: py(t) + 3, class: 'tick', 'text-anchor': 'end' }, String(t));
    l.style.textAnchor = 'end';
    
    
  });
  const xt = add(parent, 'text', { x: xTitleX, y: titleY, class: 'axt' }, 'Distance (nm)');
  
  
  const yt = add(parent, 'text', { transform: 'translate(' + yTitleX + ',' + ((top + bottom) / 2 + 3) + ') rotate(-90)', class: 'axt' }, 'Atom fraction (%)');
  
  
}

function legendRow(parent, name, y, x0, x1, lineColor, color, shape, label, tx, size) {
  const l = add(parent, 'line', { x1: x0, x2: x1, y1: y, y2: y, stroke: lineColor, 'stroke-width': 1 });
  
  
  const m = add(parent, 'path', { d: markerPath(shape, (x0 + x1) / 2, y, 2.2), fill: color });
  
  
  const t = add(parent, 'text', { x: tx, y: y + 3.5, 'font-size': size }, label);
  t.style.fill = '#333';
  
  
}

function note(parent, name, x, y, txt) {
  const t = add(parent, 'text', { x: x, y: y, class: 'lab' }, txt);
  
  
  return t;
}

/* chart b */
const gb = document.getElementById('chart-b');
const bBand = add(gb, 'rect', { x: xB(22.7), y: yB(20), width: xB(77) - xB(22.7), height: yB(-2.5) - yB(20), fill: '#deebf8' });


drawSeries(gb, 'cr', bCr, xB, yB, '#f07070', '#ec4646', 'circle', 1.9);
drawSeries(gb, 'co', bCo, xB, yB, '#5a9ae8', '#2a7de1', 'tri', 2);
drawSeries(gb, 'c', bC, xB, yB, '#c8a0e8', '#b57edc', 'dia', 2.2);
[22.7, 77].forEach(v => {
  const dl = add(gb, 'line', { x1: xB(v), x2: xB(v), y1: yB(20), y2: yB(-2.5), stroke: '#222', 'stroke-width': .9, 'stroke-dasharray': '3 2' });
  
  
});
drawFrame(gb, 'b', xB(-10), xB(110), yB(20), yB(-2.5), bXTicks, bYTicks, xB, yB, 342, 468, 216);
legendRow(gb, 'b-cr', 28, 530, 552, '#f07070', '#ec4646', 'circle', 'Cr', 555, 11);
legendRow(gb, 'b-co', 41, 530, 552, '#5a9ae8', '#2a7de1', 'tri', 'Co', 555, 11);
legendRow(gb, 'b-c', 54, 530, 552, '#c8a0e8', '#b57edc', 'dia', 'C', 555, 11);
note(gb, 'austenite-label-b', 469, 94, 'Austenite');
note(gb, 'martensite-label-b-left', 392, 118, 'Martensite');
note(gb, 'martensite-label-b-right', 546, 112, 'Martensite');
note(gb, 'segregation-label-line1', 468, 125, 'Segregation of C');
note(gb, 'segregation-label-line2', 468, 137, 'at PAGB');
const a1 = add(gb, 'line', { x1: 446, y1: 140, x2: 421, y2: 157, stroke: '#111', 'stroke-width': 1, 'marker-end': 'url(#ah)' });


const a2 = add(gb, 'line', { x1: 495, y1: 137, x2: 516, y2: 149, stroke: '#111', 'stroke-width': 1, 'marker-end': 'url(#ah)' });



/* chart c */
const gc = document.getElementById('chart-c');
const pxC = i => xC(i * cStep);
drawSeries(gc, 'c-cr', cCr, pxC, yC, '#f8a8a8', '#ec4646', 'circle', 1.9);
drawSeries(gc, 'c-co', cCo, pxC, yC, '#4a8ae0', '#2a6fd8', 'tri', 1.7);
drawSeries(gc, 'c-fe', cFe, pxC, yC, '#58b080', '#3fa06c', 'inv', 2.3);
drawSeries(gc, 'c-c', cC, pxC, yC, '#dcc4f0', '#b98ae2', 'dia', 2.4);
[7.3, 20].forEach(v => {
  const dl = add(gc, 'line', { x1: xC(v), x2: xC(v), y1: yC(100), y2: yC(-10), stroke: '#222', 'stroke-width': .9, 'stroke-dasharray': '3 2' });
  
  
});
drawFrame(gc, 'c', xC(0), xC(25), yC(100), yC(-10), cXTicks, cYTicks, xC, yC, 589, 714, 214);
legendRow(gc, 'c-cr', 30, 683, 707, '#f8a8a8', '#ec4646', 'circle', 'Cr atom%', 709, 10);
legendRow(gc, 'c-co', 43, 683, 707, '#4a8ae0', '#2a6fd8', 'tri', 'Co atom%', 709, 10);
legendRow(gc, 'c-fe', 55, 683, 707, '#58b080', '#3fa06c', 'inv', 'Fe atom%', 709, 10);
legendRow(gc, 'c-c', 67, 683, 707, '#dcc4f0', '#b98ae2', 'dia', 'C atom%', 709, 10);
note(gc, 'austenite-label-c', 642, 120, 'Austenite');
note(gc, 'martensite-label-c', 803, 120, 'Martensite');
const m7 = note(gc, 'm7c3-label', 720, 136, '');
m7.setAttribute('font-size', '10');
add(m7, 'tspan', {}, 'M');
add(m7, 'tspan', { 'font-size': 6.5, dy: 2 }, '7');
add(m7, 'tspan', { dy: -2 }, 'C');
add(m7, 'tspan', { 'font-size': 6.5, dy: 2 }, '3');

/* thermal curves */
const xTime = t => 176 + t * 1.3;
const yTempD = T => 354 - T * 1.1;
const yTempE = T => 490 - T * 1.1;
function thermalCurve(parent, name, times, temps, decayT, decayF, base, py, color) {
  times.forEach((t, i) => {
    let d = 'M' + xTime(t).toFixed(1) + ',' + py(base).toFixed(1);
    decayT.forEach((dt, j) => {
      const T = base + (temps[i] - base) * decayF[j];
      d += 'L' + xTime(t + dt).toFixed(1) + ',' + py(T).toFixed(1);
    });
    const p = add(parent, 'path', { d: d, fill: 'none', stroke: color, 'stroke-width': 1 });
    
    
  });
}
thermalCurve(document.getElementById('plot-d'), 'thermal-d', dPeakTimes, dPeakTemps, dDecayTime, dDecayFrac, 0.5, yTempD, '#52528f');
thermalCurve(document.getElementById('plot-e'), 'thermal-e', ePeakTimes, ePeakTemps, eDecayTime, eDecayFrac, 14.5, yTempE, '#c85a60');

/* grain details */
const cx0 = 613.5, cyTop = 229.5, cyBot = 670.5;
const raTopG = document.getElementById('ra-top');
raTop.forEach(r => {
  const e = add(raTopG, 'ellipse', { cx: 0, cy: 0, rx: r[2], ry: r[3], fill: '#e43c3c', transform: 'translate(' + (r[0] - cx0) / 3 + ',' + (r[1] - cyTop) / 3 + ') rotate(' + r[4] + ')' });
  
  
});
const raBotG = document.getElementById('ra-bottom');
raBottom.forEach(r => {
  const e = add(raBotG, 'ellipse', { cx: 0, cy: 0, rx: r[2], ry: r[3], fill: '#e43c3c', transform: 'translate(' + (r[0] - cx0) / 3 + ',' + (r[1] - cyBot) / 3 + ') rotate(' + r[4] + ')' });
  
  
});
const dotG = document.getElementById('dots-top');
carbideDots.forEach(r => {
  const e = add(dotG, 'circle', { cx: (r[0] - 291) / 3, cy: (r[1] - 229.5) / 3, r: 2.6, fill: 'url(#ball)' });
  
  
});
const dashG = document.getElementById('dashes-bottom');
carbideDashes.forEach(r => {
  const e = add(dashG, 'rect', { x: -4.5, y: -1.3, width: 9, height: 2.6, fill: '#3d7fbf', transform: 'translate(' + (r[0] - 291) / 3 + ',' + (r[1] - 670.5) / 3 + ') rotate(' + r[2] + ')' });
  
  
});

function dislocation(parent, x, y, rot) {
  const e = add(parent, 'path', { d: 'M-2.5,-2.5L0,0L2.5,-2.5M0,0V3', fill: 'none', stroke: '#111', 'stroke-width': .9, transform: 'translate(' + x + ',' + y + ') rotate(' + rot + ')' });
  
  
}
function insetBase(parent, top, h) {
  const b = add(parent, 'rect', { x: 751, y: top, width: 68, height: h, fill: '#d8ecc0', stroke: '#a8a8a0', 'stroke-width': .7, 'stroke-dasharray': '2 1.5' });
  
  
  insetColumns.forEach((cx, i) => {
    if (i < 3) {
      const red = add(parent, 'rect', { x: cx + 6, y: top + 20, width: 1.4, height: h - 40, fill: '#d83030' });
      
      
    }
    const e = add(parent, 'ellipse', { cx: cx, cy: top + h / 2, rx: 6.3, ry: h / 2 - 2, fill: '#dcdcdc', stroke: '#1a1a1a', 'stroke-width': .8 });
    
    
  });
}
const iT = document.getElementById('inset-top');
insetBase(iT, 244, 103);
insetColumns.forEach((cx, i) => {
  insetTopBalls[i].forEach(zy => {
    const b = add(iT, 'circle', { cx: cx, cy: 220 + zy / 3, r: 2.6, fill: 'url(#ball)' });
    
    
  });
  insetTopDisl[i].forEach((zy, j) => dislocation(iT, cx, 220 + zy / 3, 90 * (j + i)));
});
const iB = document.getElementById('inset-bottom');
insetBase(iB, 392, 104);
insetColumns.forEach((cx, i) => {
  insetBottomBars[i].forEach(zy => {
    const b = add(iB, 'rect', { x: cx - 3.5, y: 220 + zy / 3 - 1, width: 7, height: 2.2, fill: '#3d7fbf' });
    
    
  });
  insetBottomDisl[i].forEach((zy, j) => dislocation(iB, cx, 220 + zy / 3, 90 * (j + i)));
});
</script>
</body>
</html>
